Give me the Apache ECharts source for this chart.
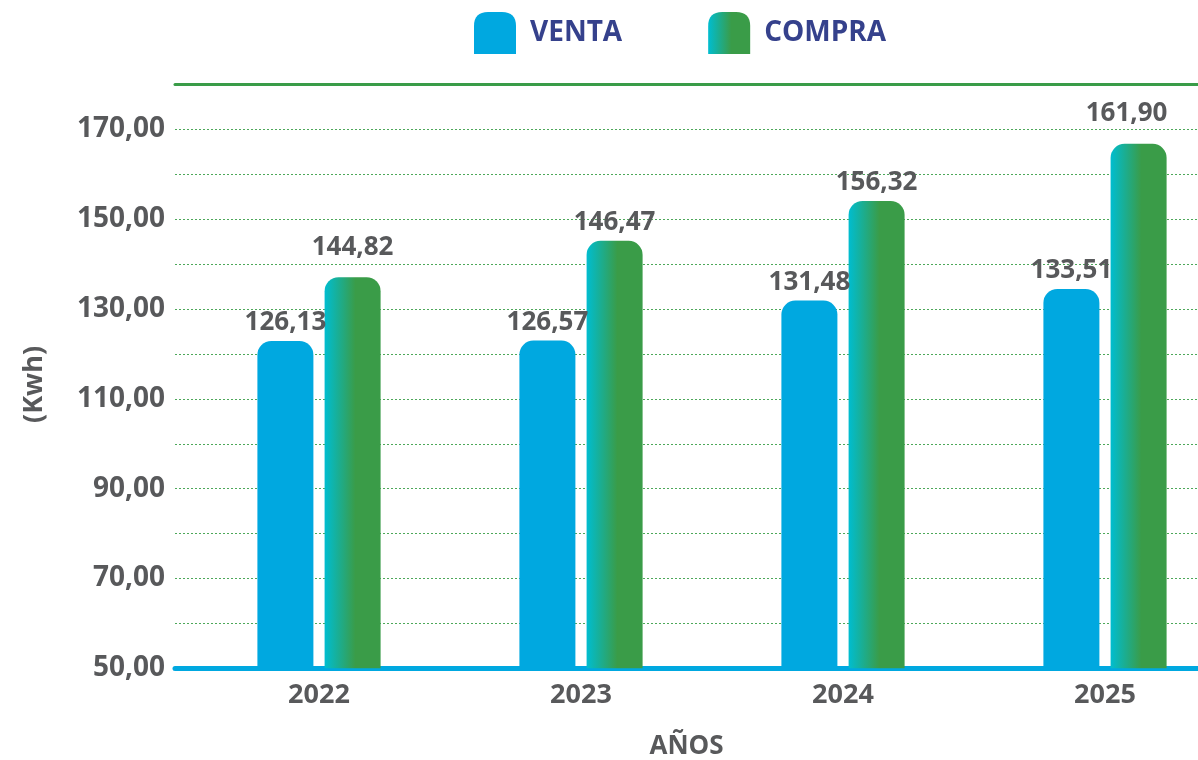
<!DOCTYPE html>
<html>
<head>
<meta charset="utf-8">
<script src="https://cdn.jsdelivr.net/npm/echarts@6/dist/echarts.min.js"></script>
<style>
html,body{margin:0;padding:0;background:#fff;}
#chart{width:1198px;height:760px;}
</style>
</head>
<body>
<div id="chart"></div>
<script>
// ---- data ----
var categories = ['2022', '2023', '2024', '2025'];
var seriesNames = ['VENTA', 'COMPRA'];
// bar heights as drawn in the picture
var ventaValues = [122.9, 123.0, 131.9, 134.5];
var compraValues = [137.1, 145.2, 154.1, 166.8];
// value labels printed above the bars
var ventaLabels = ['126,13', '126,57', '131,48', '133,51'];
var compraLabels = ['144,82', '146,47', '156,32', '161,90'];
// y-axis tick labels
var yTicks = [50, 70, 90, 110, 130, 150, 170];
var yTickLabels = ['50,00', '70,00', '90,00', '110,00', '130,00', '150,00', '170,00'];
var yAxisName = '(Kwh)';
var xAxisName = 'AÑOS';

// ---- styling ----
var FONT = "'Open Sans', 'Noto Sans', sans-serif";
var GRAY = '#58595B';
var BLUE = '#00A8E0';
var GREEN = '#3A9C48';
var compraLabelLift = [17, 5, 5, 17];
var compraLabelShift = [0, 0, 0, -12];
var compraGradient = new echarts.graphic.LinearGradient(0, 0, 1, 0, [
  { offset: 0, color: '#00BDD0' },
  { offset: 0.55, color: '#3A9C48' },
  { offset: 1, color: '#3A9C48' }
]);
var iconPath = 'path://M0,14 Q0,0 14,0 L28,0 Q42,0 42,14 L42,42 L0,42 Z';

var chart = echarts.init(document.getElementById('chart'), null, { renderer: 'canvas' });

var labelBase = {
  show: true,
  position: 'top',
  color: GRAY,
  fontFamily: FONT,
  fontWeight: 'bold',
  fontSize: 26
};

var option = {
  animation: false,
  backgroundColor: '#fff',
  legend: {
    left: 474,
    top: 12,
    padding: 0,
    itemWidth: 42,
    itemHeight: 42,
    itemGap: 86,
    icon: iconPath,
    data: seriesNames,
    textStyle: {
      color: '#35418C',
      fontFamily: FONT,
      fontWeight: 'bold',
      fontSize: 28,
      padding: [0, 0, 0, 9]
    }
  },
  grid: [
    { left: 175, right: 0, top: 84.6, bottom: 91.7, outerBoundsMode: 'none', containLabel: false },
    { left: 188, right: -38, top: 84.6, bottom: 91.7, outerBoundsMode: 'none', containLabel: false }
  ],
  xAxis: [
    {
      gridIndex: 0,
      type: 'value',
      min: 0, max: 1,
      position: 'bottom',
      axisLine: { show: true, lineStyle: { color: BLUE, width: 5 } },
      axisTick: { show: false },
      axisLabel: { show: false },
      splitLine: { show: false },
      name: xAxisName,
      nameLocation: 'middle',
      nameGap: 65,
      nameTextStyle: { color: GRAY, fontFamily: FONT, fontWeight: 'bold', fontSize: 26 }
    },
    {
      gridIndex: 0,
      type: 'value',
      min: 0, max: 1,
      position: 'top',
      axisLine: { show: true, lineStyle: { color: GREEN, width: 3 } },
      axisTick: { show: false },
      axisLabel: { show: false },
      splitLine: { show: false }
    },
    {
      gridIndex: 1,
      type: 'category',
      data: categories,
      axisLine: { show: false },
      axisTick: { show: false },
      axisLabel: {
        color: GRAY, fontFamily: FONT, fontWeight: 'bold', fontSize: 27, margin: 14
      }
    }
  ],
  yAxis: [
    {
      gridIndex: 0,
      type: 'value',
      min: 50, max: 180, interval: 10,
      axisLine: { show: false },
      axisTick: { show: false },
      axisLabel: {
        color: GRAY, fontFamily: FONT, fontWeight: 'bold', fontSize: 28, margin: 10,
        formatter: function (v) {
          var i = yTicks.indexOf(v);
          return i >= 0 ? yTickLabels[i] : '';
        }
      },
      splitLine: { show: true, lineStyle: { color: '#4DA85A', width: 1, type: [2, 2] } },
      name: yAxisName,
      nameLocation: 'middle',
      nameRotate: 90,
      nameGap: 127,
      nameTextStyle: { color: GRAY, fontFamily: FONT, fontWeight: 'bold', fontSize: 27, padding: [0, 16, 0, 0] }
    },
    {
      gridIndex: 1,
      type: 'value',
      min: 50, max: 180, interval: 10,
      show: false,
      splitLine: { show: false }
    }
  ],
  series: [
    {
      name: seriesNames[0],
      type: 'bar',
      xAxisIndex: 2,
      yAxisIndex: 1,
      barWidth: 56,
      barGap: '20%',
      itemStyle: { color: BLUE, borderRadius: [14, 14, 0, 0] },
      label: Object.assign({}, labelBase, {
        formatter: function (p) { return ventaLabels[p.dataIndex]; }
      }),
      data: ventaValues
    },
    {
      name: seriesNames[1],
      type: 'bar',
      xAxisIndex: 2,
      yAxisIndex: 1,
      barWidth: 56,
      barGap: '20%',
      itemStyle: { color: compraGradient, borderRadius: [14, 14, 0, 0] },
      label: Object.assign({}, labelBase, {
        formatter: function (p) { return compraLabels[p.dataIndex]; }
      }),
      data: compraValues.map(function (v, i) {
        return { value: v, label: { distance: compraLabelLift[i], offset: [compraLabelShift[i], 0] } };
      })
    }
  ]
};

chart.setOption(option);
</script>
</body>
</html>
